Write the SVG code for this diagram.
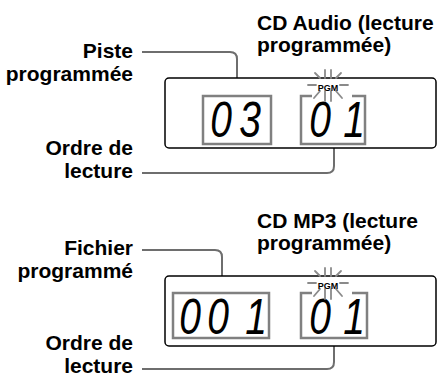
<svg xmlns="http://www.w3.org/2000/svg" width="438" height="377" viewBox="0 0 438 377">
<style>
.lbl{font-family:"Liberation Sans",Arial,sans-serif;font-weight:bold;font-size:21px;fill:#000}
.end{text-anchor:end}
.panel{fill:#fff;stroke:#000;stroke-width:1.5}
.box{fill:none;stroke:#808080;stroke-width:2.5}
.lead{fill:none;stroke:#6e6e6e;stroke-width:2}
.dig{font-family:"Liberation Sans",Arial,sans-serif;font-style:italic;font-size:50px;fill:#000;text-anchor:middle}
.pgm{font-family:"Liberation Sans",Arial,sans-serif;font-weight:bold;font-size:9px;fill:#000;text-anchor:middle}
.ray{stroke:#8a8a8a;stroke-width:1.8;fill:none;stroke-linecap:round}
</style>
<defs>
<g id="burst">
<path class="ray" d="M-20,-3 H-12 M12,-3 H20 M-3,-18 V-10 M3,-18 V-10 M-13,-15 L-8,-10 M13,-15 L8,-10 M-3,3 V13 M3,3 V13 M-8,3 L-14,10 M8,3 L14,10"/>
</g>
</defs>

<g id="connectors">
<path class="lead" d="M142,52 H230 Q237,52 237,59 V96"/>
<path class="lead" d="M142,173 H327 Q334,173 334,166 V144"/>
<path class="lead" d="M142,250 H215 Q222,250 222,257 V293"/>
<path class="lead" d="M142,369 H327 Q334,369 334,362 V338"/>
</g>

<g id="title-audio">
<text class="lbl" x="257" y="30">CD Audio (lecture</text>
<text class="lbl" x="257" y="52">programmée)</text>
</g>
<g id="label-piste">
<text class="lbl end" x="133" y="58">Piste</text>
<text class="lbl end" x="133" y="81">programmée</text>
</g>
<g id="label-ordre-audio">
<text class="lbl end" x="133" y="155">Ordre de</text>
<text class="lbl end" x="133" y="178">lecture</text>
</g>
<g id="display-audio">
<rect class="panel" x="165" y="78" width="271" height="70" rx="4"/>
<rect class="box" x="203" y="96" width="68" height="48"/>
<text class="dig" transform="matrix(0.78 0 0 1 221 137)">0</text>
<text class="dig" transform="matrix(0.78 0 0 1 250 137)">3</text>
<path class="box" d="M312,96 H301 V144 H365 V96 H352"/>
<text class="dig" transform="matrix(0.78 0 0 1 320 137)">0</text>
<text class="dig" transform="matrix(0.78 0 0 1 354 137)">1</text>
<use href="#burst" x="328" y="88"/>
<text class="pgm" x="328" y="90.5">PGM</text>
</g>

<g id="title-mp3">
<text class="lbl" x="257" y="228">CD MP3 (lecture</text>
<text class="lbl" x="257" y="250">programmée)</text>
</g>
<g id="label-fichier">
<text class="lbl end" x="133" y="255">Fichier</text>
<text class="lbl end" x="133" y="278">programmé</text>
</g>
<g id="label-ordre-mp3">
<text class="lbl end" x="133" y="350">Ordre de</text>
<text class="lbl end" x="133" y="373">lecture</text>
</g>
<g id="display-mp3">
<rect class="panel" x="165" y="276" width="271" height="70" rx="4"/>
<rect class="box" x="173" y="293" width="96" height="45"/>
<text class="dig" transform="matrix(0.78 0 0 1 190 334)">0</text>
<text class="dig" transform="matrix(0.78 0 0 1 218 334)">0</text>
<text class="dig" transform="matrix(0.78 0 0 1 256 334)">1</text>
<path class="box" d="M312,293 H301 V338 H367 V293 H352"/>
<text class="dig" transform="matrix(0.78 0 0 1 320 334)">0</text>
<text class="dig" transform="matrix(0.78 0 0 1 354 334)">1</text>
<use href="#burst" x="328" y="286"/>
<text class="pgm" x="328" y="288.5">PGM</text>
</g>
</svg>
